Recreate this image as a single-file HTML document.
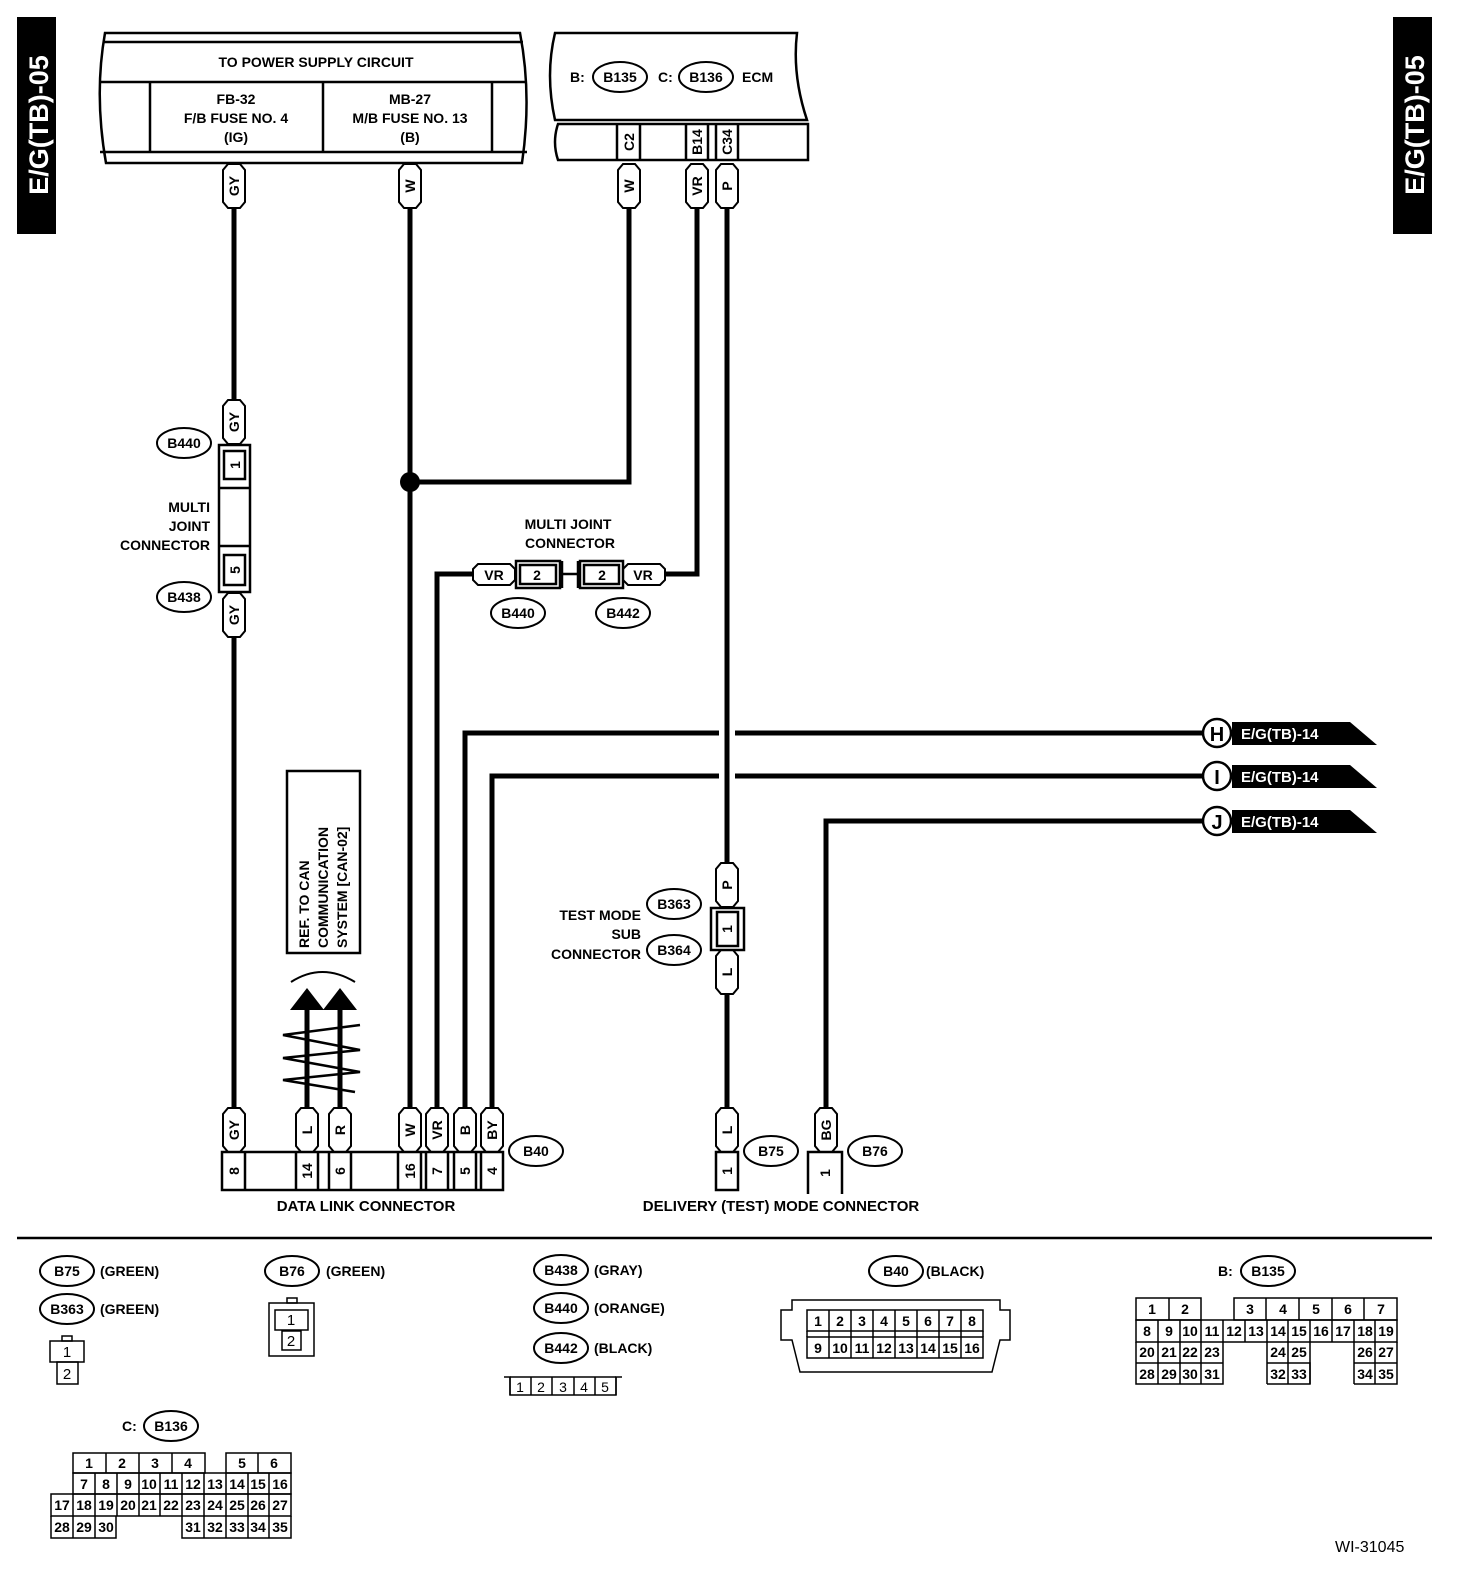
<!DOCTYPE html><html><head><style>html,body{margin:0;padding:0;background:#fff;width:1472px;height:1582px;overflow:hidden}svg{display:block}text{font-family:"Liberation Sans",sans-serif;font-weight:bold;font-size:14px}</style></head><body>
<svg width="1472" height="1582" viewBox="0 0 1472 1582" xmlns="http://www.w3.org/2000/svg">
<defs>
<g id="lb"><path d="M-6,-22 L6,-22 L11,-16 L11,16 L6,22 L-6,22 L-11,16 L-11,-16 Z" fill="#fff" stroke="#000" stroke-width="2"/></g>
</defs>
<rect x="17" y="17" width="39" height="217" fill="#000"/>
<text transform="translate(48,125) rotate(-90)" text-anchor="middle" fill="#fff" style="font-size:27px">E/G(TB)-05</text>
<rect x="1393" y="17" width="39" height="217" fill="#000"/>
<text transform="translate(1424,125) rotate(-90)" text-anchor="middle" fill="#fff" style="font-size:27px">E/G(TB)-05</text>

<g fill="none" stroke="#000" stroke-width="2.5">
<path d="M105,33 L520,33 Q532,95 522,163 L106,163 Q94,95 105,33 Z"/>
<line x1="103" y1="42" x2="523" y2="42"/>
<line x1="100" y1="82" x2="527" y2="82"/>
<line x1="100" y1="152" x2="527" y2="152"/>
<line x1="150" y1="82" x2="150" y2="152"/><line x1="323" y1="82" x2="323" y2="152"/><line x1="492" y1="82" x2="492" y2="152"/>
<path d="M555,33 L797,33 Q792,75 807,120 L555,120 Q545,75 555,33 Z"/>
<path d="M558,124 L808,124 L808,160 L558,160 Q552,142 558,124 Z"/>
<line x1="617" y1="124" x2="617" y2="160"/><line x1="640" y1="124" x2="640" y2="160"/>
<line x1="686" y1="124" x2="686" y2="160"/><line x1="708" y1="124" x2="708" y2="160"/>
<line x1="716" y1="124" x2="716" y2="160"/><line x1="738" y1="124" x2="738" y2="160"/>
</g>
<text x="316" y="67" text-anchor="middle">TO POWER SUPPLY CIRCUIT</text>
<text x="236" y="104" text-anchor="middle">FB-32</text><text x="236" y="123" text-anchor="middle">F/B FUSE NO. 4</text><text x="236" y="142" text-anchor="middle">(IG)</text>
<text x="410" y="104" text-anchor="middle">MB-27</text><text x="410" y="123" text-anchor="middle">M/B FUSE NO. 13</text><text x="410" y="142" text-anchor="middle">(B)</text>
<text x="570" y="82">B:</text><ellipse cx="620" cy="77" rx="27" ry="15" fill="none" stroke="#000" stroke-width="2"/><text x="620" y="82" text-anchor="middle">B135</text>
<text x="658" y="82">C:</text><ellipse cx="706" cy="77" rx="27" ry="15" fill="none" stroke="#000" stroke-width="2"/><text x="706" y="82" text-anchor="middle">B136</text>
<text x="742" y="82">ECM</text>
<text transform="translate(634,142) rotate(-90)" text-anchor="middle">C2</text>
<text transform="translate(702,142) rotate(-90)" text-anchor="middle">B14</text>
<text transform="translate(732,142) rotate(-90)" text-anchor="middle">C34</text>

<g stroke="#000" stroke-width="5" fill="none">
<line x1="234" y1="205" x2="234" y2="402"/><line x1="234" y1="635" x2="234" y2="1110"/>
<line x1="410" y1="205" x2="410" y2="1110"/>
<polyline points="629,205 629,482 410,482"/>
<polyline points="697,205 697,574 664,574"/>
<polyline points="474,574 437,574 437,1110"/>
<line x1="727" y1="205" x2="727" y2="866"/><line x1="727" y1="990" x2="727" y2="1110"/>
<polyline points="465,1110 465,733 719,733"/><line x1="735" y1="733" x2="1204" y2="733"/>
<polyline points="492,1110 492,776 719,776"/><line x1="735" y1="776" x2="1204" y2="776"/>
<polyline points="826,1110 826,821 1204,821"/>
<line x1="307" y1="1108" x2="307" y2="1005"/><line x1="340" y1="1108" x2="340" y2="1005"/>
</g>
<circle cx="410" cy="482" r="10"/>
<polygon points="290,1010 307,988 324,1010"/><polygon points="323,1010 340,988 357,1010"/>
<path d="M291,982 Q322,962 355,982" fill="none" stroke="#000" stroke-width="2"/>
<g stroke="#000" stroke-width="2.5" fill="none">
<polyline points="360,1025 283,1035 360,1050 283,1058 360,1072 283,1080 355,1092"/>
</g>
<rect x="287" y="771" width="73" height="182" fill="none" stroke="#000" stroke-width="2.5"/>
<text transform="translate(309,948) rotate(-90)">REF. TO CAN</text>
<text transform="translate(328,948) rotate(-90)">COMMUNICATION</text>
<text transform="translate(347,948) rotate(-90)">SYSTEM [CAN-02]</text>

<g stroke="#000" stroke-width="2.5" fill="#fff">
<circle cx="1217" cy="733" r="14"/><circle cx="1217" cy="776" r="14"/><circle cx="1217" cy="821" r="14"/>
</g>
<polygon points="1232,722 1350,722 1377,745 1232,745"/><polygon points="1232,765 1350,765 1377,788 1232,788"/><polygon points="1232,810 1350,810 1377,833 1232,833"/>
<text x="1217" y="741" text-anchor="middle" style="font-size:20px">H</text>
<text x="1217" y="784" text-anchor="middle" style="font-size:20px">I</text>
<text x="1217" y="829" text-anchor="middle" style="font-size:20px">J</text>
<g fill="#fff"><text x="1241" y="739" style="font-size:15px">E/G(TB)-14</text><text x="1241" y="782" style="font-size:15px">E/G(TB)-14</text><text x="1241" y="827" style="font-size:15px">E/G(TB)-14</text></g>

<g>
<use href="#lb" x="234" y="186"/><use href="#lb" x="410" y="186"/><use href="#lb" x="629" y="186"/><use href="#lb" x="697" y="186"/><use href="#lb" x="727" y="186"/>
<use href="#lb" x="234" y="422"/><use href="#lb" x="234" y="615"/>
<use href="#lb" x="727" y="885"/><use href="#lb" x="727" y="972"/>
<use href="#lb" x="234" y="1130"/><use href="#lb" x="307" y="1130"/><use href="#lb" x="340" y="1130"/><use href="#lb" x="410" y="1130"/><use href="#lb" x="437" y="1130"/><use href="#lb" x="465" y="1130"/><use href="#lb" x="492" y="1130"/>
<use href="#lb" x="727" y="1130"/><use href="#lb" x="826" y="1130"/>
</g>
<text transform="translate(239,186) rotate(-90)" text-anchor="middle">GY</text>
<text transform="translate(415,186) rotate(-90)" text-anchor="middle">W</text>
<text transform="translate(634,186) rotate(-90)" text-anchor="middle">W</text>
<text transform="translate(702,186) rotate(-90)" text-anchor="middle">VR</text>
<text transform="translate(732,186) rotate(-90)" text-anchor="middle">P</text>
<text transform="translate(239,422) rotate(-90)" text-anchor="middle">GY</text>
<text transform="translate(239,615) rotate(-90)" text-anchor="middle">GY</text>
<text transform="translate(732,885) rotate(-90)" text-anchor="middle">P</text>
<text transform="translate(732,972) rotate(-90)" text-anchor="middle">L</text>
<text transform="translate(239,1130) rotate(-90)" text-anchor="middle">GY</text>
<text transform="translate(312,1130) rotate(-90)" text-anchor="middle">L</text>
<text transform="translate(345,1130) rotate(-90)" text-anchor="middle">R</text>
<text transform="translate(415,1130) rotate(-90)" text-anchor="middle">W</text>
<text transform="translate(442,1130) rotate(-90)" text-anchor="middle">VR</text>
<text transform="translate(470,1130) rotate(-90)" text-anchor="middle">B</text>
<text transform="translate(497,1130) rotate(-90)" text-anchor="middle">BY</text>
<text transform="translate(732,1130) rotate(-90)" text-anchor="middle">L</text>
<text transform="translate(831,1130) rotate(-90)" text-anchor="middle">BG</text>

<g fill="none" stroke="#000" stroke-width="2.5">
<rect x="219" y="445" width="31" height="147"/>
<rect x="224" y="451" width="21" height="28"/><rect x="224" y="555" width="21" height="30"/>
<line x1="219" y1="488" x2="250" y2="488"/><line x1="219" y1="546" x2="250" y2="546"/>
</g>
<text transform="translate(240,465) rotate(-90)" text-anchor="middle">1</text>
<text transform="translate(240,570) rotate(-90)" text-anchor="middle">5</text>
<g fill="none" stroke="#000" stroke-width="2"><ellipse cx="184" cy="443" rx="27" ry="15"/><ellipse cx="184" cy="597" rx="27" ry="15"/></g>
<text x="184" y="448" text-anchor="middle">B440</text><text x="184" y="602" text-anchor="middle">B438</text>
<g text-anchor="end"><text x="210" y="512">MULTI</text><text x="210" y="531">JOINT</text><text x="210" y="550">CONNECTOR</text></g>

<g fill="#fff" stroke="#000" stroke-width="2">
<path d="M478,564 L510,564 L515,569 L515,580 L510,585 L478,585 L473,580 L473,569 Z"/>
<path d="M628,564 L660,564 L665,569 L665,580 L660,585 L628,585 L623,580 L623,569 Z"/>
</g>
<g fill="none" stroke="#000" stroke-width="2.5">
<rect x="516" y="561" width="44" height="27"/><rect x="520" y="565" width="36" height="19"/>
<rect x="580" y="561" width="43" height="27"/><rect x="584" y="565" width="35" height="19"/>
<line x1="560" y1="574" x2="580" y2="574"/><line x1="562" y1="561" x2="562" y2="588"/><line x1="578" y1="561" x2="578" y2="588"/>
</g>
<text x="494" y="580" text-anchor="middle">VR</text><text x="537" y="580" text-anchor="middle">2</text><text x="602" y="580" text-anchor="middle">2</text><text x="643" y="580" text-anchor="middle">VR</text>
<g fill="none" stroke="#000" stroke-width="2"><ellipse cx="518" cy="613" rx="27" ry="15"/><ellipse cx="623" cy="613" rx="27" ry="15"/></g>
<text x="518" y="618" text-anchor="middle">B440</text><text x="623" y="618" text-anchor="middle">B442</text>
<text x="568" y="529" text-anchor="middle">MULTI JOINT</text><text x="570" y="548" text-anchor="middle">CONNECTOR</text>

<g fill="none" stroke="#000" stroke-width="2.5"><rect x="711" y="908" width="33" height="42"/><rect x="717" y="912" width="21" height="34"/></g>
<text transform="translate(732,929) rotate(-90)" text-anchor="middle">1</text>
<g fill="none" stroke="#000" stroke-width="2"><ellipse cx="674" cy="904" rx="27" ry="15"/><ellipse cx="674" cy="950" rx="27" ry="15"/></g>
<text x="674" y="909" text-anchor="middle">B363</text><text x="674" y="955" text-anchor="middle">B364</text>
<g text-anchor="end"><text x="641" y="920">TEST MODE</text><text x="641" y="939">SUB</text><text x="641" y="959">CONNECTOR</text></g>

<g fill="none" stroke="#000" stroke-width="2.5">
<rect x="222" y="1152" width="281" height="38"/>
<line x1="245" y1="1152" x2="245" y2="1190"/>
<line x1="296" y1="1152" x2="296" y2="1190"/><line x1="318" y1="1152" x2="318" y2="1190"/>
<line x1="329" y1="1152" x2="329" y2="1190"/><line x1="351" y1="1152" x2="351" y2="1190"/>
<line x1="398" y1="1152" x2="398" y2="1190"/><line x1="421" y1="1152" x2="421" y2="1190"/>
<line x1="426" y1="1152" x2="426" y2="1190"/><line x1="448" y1="1152" x2="448" y2="1190"/>
<line x1="454" y1="1152" x2="454" y2="1190"/><line x1="476" y1="1152" x2="476" y2="1190"/>
<line x1="481" y1="1152" x2="481" y2="1190"/>
<rect x="716" y="1152" width="22" height="38"/>
<polyline points="808,1194 808,1152 842,1152 842,1194"/>
</g>
<text transform="translate(239,1171) rotate(-90)" text-anchor="middle">8</text>
<text transform="translate(312,1171) rotate(-90)" text-anchor="middle">14</text>
<text transform="translate(345,1171) rotate(-90)" text-anchor="middle">6</text>
<text transform="translate(415,1171) rotate(-90)" text-anchor="middle">16</text>
<text transform="translate(442,1171) rotate(-90)" text-anchor="middle">7</text>
<text transform="translate(470,1171) rotate(-90)" text-anchor="middle">5</text>
<text transform="translate(497,1171) rotate(-90)" text-anchor="middle">4</text>
<text transform="translate(732,1171) rotate(-90)" text-anchor="middle">1</text>
<text transform="translate(830,1173) rotate(-90)" text-anchor="middle">1</text>
<g fill="none" stroke="#000" stroke-width="2"><ellipse cx="536" cy="1151" rx="27" ry="15"/><ellipse cx="771" cy="1151" rx="27" ry="15"/><ellipse cx="875" cy="1151" rx="27" ry="15"/></g>
<text x="536" y="1156" text-anchor="middle">B40</text><text x="771" y="1156" text-anchor="middle">B75</text><text x="875" y="1156" text-anchor="middle">B76</text>
<text x="366" y="1211" text-anchor="middle" style="font-size:15px">DATA LINK CONNECTOR</text>
<text x="781" y="1211" text-anchor="middle" style="font-size:15px">DELIVERY (TEST) MODE CONNECTOR</text>

<line x1="17" y1="1238" x2="1432" y2="1238" stroke="#000" stroke-width="2.5"/>

<g fill="none" stroke="#000" stroke-width="2">
<ellipse cx="67" cy="1271" rx="27" ry="15"/><ellipse cx="67" cy="1309" rx="27" ry="15"/><ellipse cx="292" cy="1271" rx="27" ry="15"/>
<ellipse cx="561" cy="1270" rx="27" ry="15"/><ellipse cx="561" cy="1308" rx="27" ry="15"/><ellipse cx="561" cy="1348" rx="27" ry="15"/>
<ellipse cx="896" cy="1271" rx="27" ry="15"/><ellipse cx="1268" cy="1271" rx="27" ry="15"/><ellipse cx="171" cy="1426" rx="27" ry="15"/>
</g>
<text x="67" y="1276" text-anchor="middle">B75</text><text x="100" y="1276">(GREEN)</text>
<text x="67" y="1314" text-anchor="middle">B363</text><text x="100" y="1314">(GREEN)</text>
<text x="292" y="1276" text-anchor="middle">B76</text><text x="326" y="1276">(GREEN)</text>
<text x="561" y="1275" text-anchor="middle">B438</text><text x="594" y="1275">(GRAY)</text>
<text x="561" y="1313" text-anchor="middle">B440</text><text x="594" y="1313">(ORANGE)</text>
<text x="561" y="1353" text-anchor="middle">B442</text><text x="594" y="1353">(BLACK)</text>
<text x="896" y="1276" text-anchor="middle">B40</text><text x="926" y="1276">(BLACK)</text>
<text x="1218" y="1276">B:</text><text x="1268" y="1276" text-anchor="middle">B135</text>
<text x="122" y="1431">C:</text><text x="171" y="1431" text-anchor="middle">B136</text>

<g fill="none" stroke="#000" stroke-width="1.5">
<rect x="62" y="1336" width="10" height="5"/><rect x="50" y="1341" width="34" height="21"/><rect x="57" y="1362" width="21" height="22"/>
<rect x="287" y="1298" width="10" height="5"/><rect x="269" y="1303" width="45" height="53"/><rect x="275" y="1310" width="33" height="20"/><rect x="282" y="1331" width="19" height="19"/>
<path d="M504,1377 L510,1377 L510,1395 L616,1395 L616,1377 L622,1377"/>
<line x1="510" y1="1377" x2="510" y2="1395"/><line x1="531" y1="1377" x2="531" y2="1395"/><line x1="552" y1="1377" x2="552" y2="1395"/><line x1="574" y1="1377" x2="574" y2="1395"/><line x1="595" y1="1377" x2="595" y2="1395"/><line x1="616" y1="1377" x2="616" y2="1395"/>
<line x1="510" y1="1377" x2="616" y2="1377"/>
<path d="M792,1300 L1000,1300 L1000,1310 L1010,1310 L1010,1340 L1000,1340 L992,1372 L800,1372 L792,1340 L781,1340 L781,1310 L792,1310 Z"/>
<rect x="807" y="1310" width="176" height="21"/><rect x="807" y="1337" width="176" height="21"/>
<line x1="829" y1="1310" x2="829" y2="1358"/><line x1="851" y1="1310" x2="851" y2="1358"/><line x1="873" y1="1310" x2="873" y2="1358"/><line x1="895" y1="1310" x2="895" y2="1358"/><line x1="917" y1="1310" x2="917" y2="1358"/><line x1="939" y1="1310" x2="939" y2="1358"/><line x1="961" y1="1310" x2="961" y2="1358"/>
<line x1="807" y1="1331" x2="807" y2="1337"/><line x1="983" y1="1331" x2="983" y2="1337"/>
<rect x="1136" y="1298" width="65" height="22"/><line x1="1169" y1="1298" x2="1169" y2="1320"/>
<rect x="1234" y="1298" width="163" height="22"/><line x1="1266" y1="1298" x2="1266" y2="1320"/><line x1="1299" y1="1298" x2="1299" y2="1320"/><line x1="1332" y1="1298" x2="1332" y2="1320"/><line x1="1364" y1="1298" x2="1364" y2="1320"/>
<rect x="1136" y="1320" width="261" height="22"/>
<line x1="1158" y1="1320" x2="1158" y2="1384"/><line x1="1180" y1="1320" x2="1180" y2="1384"/><line x1="1201" y1="1320" x2="1201" y2="1384"/><line x1="1223" y1="1320" x2="1223" y2="1342"/><line x1="1245" y1="1320" x2="1245" y2="1342"/><line x1="1288" y1="1320" x2="1288" y2="1384"/><line x1="1332" y1="1320" x2="1332" y2="1342"/><line x1="1375" y1="1320" x2="1375" y2="1384"/>
<line x1="1267" y1="1320" x2="1267" y2="1384"/><line x1="1310" y1="1320" x2="1310" y2="1384"/><line x1="1354" y1="1320" x2="1354" y2="1384"/>
<path d="M1136,1342 L1136,1384 L1223,1384 L1223,1342 M1136,1363 L1223,1363 M1267,1363 L1310,1363 L1310,1384 L1267,1384 M1354,1363 L1397,1363 L1397,1342 M1354,1384 L1397,1384 L1397,1363"/>
<rect x="73" y="1453" width="132" height="20"/><line x1="106" y1="1453" x2="106" y2="1473"/><line x1="139" y1="1453" x2="139" y2="1473"/><line x1="172" y1="1453" x2="172" y2="1473"/>
<rect x="226" y="1453" width="65" height="20"/><line x1="258" y1="1453" x2="258" y2="1473"/>
<rect x="73" y="1473" width="218" height="21"/>
<rect x="51" y="1494" width="240" height="22"/>
<path d="M51,1516 L51,1538 L116,1538 L116,1516 M182,1516 L182,1538 L291,1538 L291,1516"/>
<line x1="95" y1="1473" x2="95" y2="1494"/><line x1="117" y1="1473" x2="117" y2="1494"/><line x1="139" y1="1473" x2="139" y2="1494"/><line x1="160" y1="1473" x2="160" y2="1494"/><line x1="182" y1="1473" x2="182" y2="1516"/><line x1="204" y1="1473" x2="204" y2="1538"/><line x1="226" y1="1473" x2="226" y2="1538"/><line x1="248" y1="1473" x2="248" y2="1538"/><line x1="269" y1="1473" x2="269" y2="1538"/>
<line x1="73" y1="1494" x2="73" y2="1538"/><line x1="95" y1="1494" x2="95" y2="1538"/><line x1="117" y1="1494" x2="117" y2="1516"/><line x1="139" y1="1494" x2="139" y2="1516"/><line x1="160" y1="1494" x2="160" y2="1516"/>
</g>
<g text-anchor="middle">
<text x="67" y="1357" style="font-size:15px;font-weight:normal">1</text><text x="67" y="1379" style="font-size:15px;font-weight:normal">2</text>
<text x="291" y="1325" style="font-size:15px;font-weight:normal">1</text><text x="291" y="1346" style="font-size:15px;font-weight:normal">2</text>
<text x="520" y="1392" style="font-weight:normal">1</text><text x="541" y="1392" style="font-weight:normal">2</text><text x="563" y="1392" style="font-weight:normal">3</text><text x="584" y="1392" style="font-weight:normal">4</text><text x="605" y="1392" style="font-weight:normal">5</text>
</g>
<g text-anchor="middle" style="font-size:13px">
<text x="818" y="1326">1</text><text x="840" y="1326">2</text><text x="862" y="1326">3</text><text x="884" y="1326">4</text><text x="906" y="1326">5</text><text x="928" y="1326">6</text><text x="950" y="1326">7</text><text x="972" y="1326">8</text>
<text x="818" y="1353">9</text><text x="840" y="1353">10</text><text x="862" y="1353">11</text><text x="884" y="1353">12</text><text x="906" y="1353">13</text><text x="928" y="1353">14</text><text x="950" y="1353">15</text><text x="972" y="1353">16</text>
</g>
<g text-anchor="middle" style="font-size:12px;font-weight:normal">
<text x="1152" y="1314">1</text><text x="1185" y="1314">2</text><text x="1250" y="1314">3</text><text x="1283" y="1314">4</text><text x="1316" y="1314">5</text><text x="1348" y="1314">6</text><text x="1381" y="1314">7</text>
<text x="1147" y="1336">8</text><text x="1169" y="1336">9</text><text x="1190" y="1336">10</text><text x="1212" y="1336">11</text><text x="1234" y="1336">12</text><text x="1256" y="1336">13</text><text x="1278" y="1336">14</text><text x="1299" y="1336">15</text><text x="1321" y="1336">16</text><text x="1343" y="1336">17</text><text x="1365" y="1336">18</text><text x="1386" y="1336">19</text>
<text x="1147" y="1357">20</text><text x="1169" y="1357">21</text><text x="1190" y="1357">22</text><text x="1212" y="1357">23</text><text x="1278" y="1357">24</text><text x="1299" y="1357">25</text><text x="1365" y="1357">26</text><text x="1386" y="1357">27</text>
<text x="1147" y="1379">28</text><text x="1169" y="1379">29</text><text x="1190" y="1379">30</text><text x="1212" y="1379">31</text><text x="1278" y="1379">32</text><text x="1299" y="1379">33</text><text x="1365" y="1379">34</text><text x="1386" y="1379">35</text>
<text x="89" y="1468">1</text><text x="122" y="1468">2</text><text x="155" y="1468">3</text><text x="188" y="1468">4</text><text x="242" y="1468">5</text><text x="274" y="1468">6</text>
<text x="84" y="1489">7</text><text x="106" y="1489">8</text><text x="128" y="1489">9</text><text x="149" y="1489">10</text><text x="171" y="1489">11</text><text x="193" y="1489">12</text><text x="215" y="1489">13</text><text x="237" y="1489">14</text><text x="258" y="1489">15</text><text x="280" y="1489">16</text>
<text x="62" y="1510">17</text><text x="84" y="1510">18</text><text x="106" y="1510">19</text><text x="128" y="1510">20</text><text x="149" y="1510">21</text><text x="171" y="1510">22</text><text x="193" y="1510">23</text><text x="215" y="1510">24</text><text x="237" y="1510">25</text><text x="258" y="1510">26</text><text x="280" y="1510">27</text>
<text x="62" y="1532">28</text><text x="84" y="1532">29</text><text x="106" y="1532">30</text><text x="193" y="1532">31</text><text x="215" y="1532">32</text><text x="237" y="1532">33</text><text x="258" y="1532">34</text><text x="280" y="1532">35</text>
</g>
<text x="1335" y="1552" style="font-weight:normal;font-size:16px">WI-31045</text>
</svg>
</body></html>
